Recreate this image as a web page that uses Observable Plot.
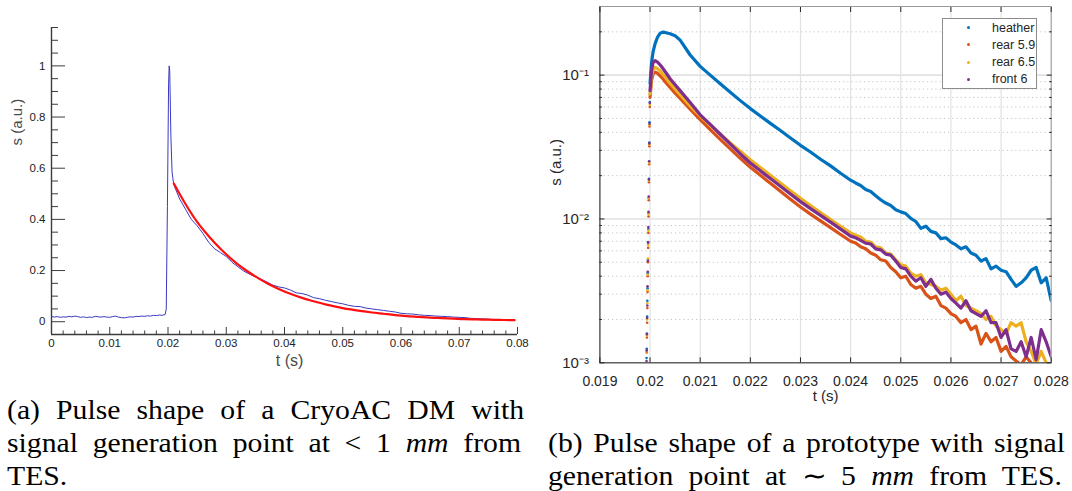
<!DOCTYPE html>
<html><head><meta charset="utf-8">
<script src="https://cdn.jsdelivr.net/npm/d3@7"></script>
<script src="https://cdn.jsdelivr.net/npm/@observablehq/plot@0.6"></script>
<style>
html,body{margin:0;padding:0;background:#fff;}
#wrap{position:relative;width:1072px;height:491px;overflow:hidden;background:#fff;}
#left{position:absolute;left:0;top:0;width:540px;height:380px;}
#right{position:absolute;left:540px;top:0;width:532px;height:410px;}
#legend{position:absolute;left:942px;top:18px;width:93px;height:69px;border:1px solid #8c8c8c;background:#fff;font:12.5px "Liberation Sans",Arial,sans-serif;color:#262626;}
#legend .row{position:absolute;left:0;height:14px;line-height:14px;width:93px;}
#legend .dot{position:absolute;left:24px;top:5.5px;width:3px;height:3px;border-radius:50%;}
#legend .lab{position:absolute;left:49px;top:0;white-space:nowrap;}
#caps{position:absolute;left:0;top:0;pointer-events:none;}
</style></head>
<body><div id="wrap">
<div id="left"></div>
<div id="right"></div>
<div id="legend"></div>
<svg id="caps" width="1072" height="491">
<g font-family="Liberation Serif, Times New Roman, serif" font-size="27" fill="#000">
<text class="cap" data-x="7" data-y="419" data-w="517">(a) Pulse shape of a CryoAC DM with</text>
<text class="cap" data-x="7" data-y="452" data-w="514">signal generation point at &lt; 1 <tspan font-style="italic">mm</tspan> from</text>
<text class="cap" data-x="7" data-y="485" data-w="0">TES.</text>
<text class="cap" data-x="548" data-y="452" data-w="517">(b) Pulse shape of a prototype with signal</text>
<text class="cap" data-x="548" data-y="485" data-w="514">generation point at ∼ 5 <tspan font-style="italic">mm</tspan> from TES.</text>
</g></svg>
</div>
<script>
// ---------- (a) CryoAC DM pulse ----------
const tA = [0,0.0005,0.001,0.0015,0.002,0.0025,0.003,0.0035,0.004,0.0045,0.005,0.0055,0.006,0.0065,0.007,0.0075,0.008,0.0085,0.009,0.0095,
  0.01,0.0105,0.011,0.0115,0.012,0.0125,0.013,0.0135,0.014,0.0145,0.015,0.0155,0.016,0.0165,0.017,0.0175,0.018,0.0185,0.019,0.0195,
  0.0197,0.0199,0.0201,0.0202,0.0203,0.0205,0.0207,0.0209,
  0.021,0.022,0.023,0.024,0.025,0.026,0.027,0.028,0.029,0.030,0.031,0.032,0.033,0.034,0.035,0.036,0.037,0.038,0.039,0.040,
  0.041,0.042,0.043,0.044,0.045,0.046,0.047,0.048,0.049,0.050,0.051,0.052,0.053,0.054,0.055,0.056,0.057,0.058,0.059,0.060,
  0.061,0.062,0.063,0.064,0.065,0.066,0.067,0.068,0.069,0.070,0.071,0.072,0.073,0.074,0.075,0.076,0.077,0.078,0.079,0.0795];
const sA = [0.021,0.018,0.020,0.017,0.019,0.018,0.021,0.019,0.022,0.020,0.017,0.019,0.016,0.018,0.017,0.021,0.019,0.018,0.020,0.018,
  0.017,0.020,0.022,0.018,0.016,0.015,0.017,0.019,0.018,0.021,0.020,0.022,0.021,0.023,0.022,0.025,0.024,0.026,0.025,0.028,
  0.05,0.45,0.93,1.0,0.98,0.72,0.585,0.55,
  0.535,0.48,0.44,0.40,0.375,0.345,0.31,0.285,0.27,0.255,0.232,0.215,0.198,0.186,0.175,0.166,0.155,0.143,0.136,0.132,
  0.124,0.113,0.110,0.104,0.094,0.090,0.084,0.079,0.074,0.070,0.064,0.060,0.059,0.053,0.050,0.047,0.044,0.041,0.038,0.033,
  0.031,0.030,0.027,0.025,0.024,0.022,0.021,0.020,0.018,0.017,0.016,0.013,0.012,0.011,0.010,0.008,0.007,0.005,0.005,0.006];
const tFitA = [0.021,0.023,0.025,0.027,0.029,0.031,0.033,0.035,0.037,0.039,0.041,0.043,0.045,0.047,0.049,0.051,0.053,0.055,0.057,0.059,
  0.061,0.063,0.065,0.067,0.069,0.071,0.073,0.075,0.077,0.0795];
const sFitA = [0.540,0.46,0.39,0.334,0.285,0.243,0.207,0.177,0.150,0.128,0.109,0.093,0.080,0.068,0.058,0.049,0.042,0.036,0.031,0.026,
  0.022,0.019,0.016,0.014,0.012,0.010,0.009,0.008,0.007,0.006];
const xTicksA = [0,0.01,0.02,0.03,0.04,0.05,0.06,0.07,0.08];
const xLabelsA = ["0","0.01","0.02","0.03","0.04","0.05","0.06","0.07","0.08"];
const yTicksA = [0,0.2,0.4,0.6,0.8,1];
const yLabelsA = ["0","0.2","0.4","0.6","0.8","1"];

// ---------- (b) prototype pulses ----------
const seriesNames = ["heather","rear 5.9","rear 6.5","front 6"];
const seriesColors = ["#0072BD","#D95319","#EDB120","#7E2F8E"];
const tRise = [0.019930,0.019934,0.019938,0.019942,0.019946,0.019950,0.019954,0.019958,0.019962,0.019966,0.019970,0.019974,0.019978,0.019982,0.019986,0.019990,0.019995];
const heatherRise = [0.00108,0.00125,0.0016,0.0021,0.0027,0.0033,0.0042,0.0052,0.0068,0.0085,0.011,0.014,0.019,0.025,0.034,0.047,0.065];
const rear59Rise  = [0.00096,0.00118,0.0015,0.0019,0.0024,0.0031,0.0040,0.0050,0.0063,0.0080,0.0104,0.0135,0.018,0.024,0.032,0.044,0.060];
const rear65Rise  = [0.00099,0.0012,0.00155,0.0020,0.0026,0.0032,0.0041,0.0053,0.0066,0.0083,0.0108,0.014,0.0185,0.0245,0.033,0.045,0.062];
const front6Rise  = [0.00103,0.00122,0.00158,0.00205,0.0025,0.0034,0.0043,0.0051,0.0069,0.0088,0.0112,0.0143,0.0188,0.0252,0.0335,0.046,0.064];
const tLine = [0.02000,0.02003,0.02006,0.0201,0.02015,0.0202,0.02025,0.0203,0.0204,0.0205,0.0206,0.0208,
  0.0210,0.0212,0.0214,0.0216,0.0218,0.0220,0.0222,0.0224,0.0226,0.0228,0.0230,0.0232,0.0234,0.0236,0.0238,0.0240,
  0.0241,0.0242,0.0243,0.0244,0.0245,0.0246,0.0247,0.0248,0.0249,0.0250,
  0.0251,0.0252,0.0253,0.0254,0.0255,0.0256,0.0257,0.0258,0.0259,0.0260,
  0.0261,0.0262,0.0263,0.0264,0.0265,0.0266,0.0267,0.0268,0.0269,0.0270,
  0.0271,0.0272,0.0273,0.0274,0.0275,0.0276,0.0277,0.0278,0.0279,0.0280];
const heather = [0.088,0.122,0.145,0.165,0.184,0.195,0.199,0.198,0.194,0.188,0.175,0.138,
  0.115,0.100,0.087,0.076,0.0665,0.0585,0.052,0.0462,0.0412,0.0366,0.0325,0.0292,0.026,0.0234,0.0208,0.0186,
  0.0178,0.0171,0.0160,0.0155,0.0145,0.0136,0.0129,0.0124,0.0116,0.0112,
  0.0109,0.0101,0.0096,0.0086,0.0089,0.0082,0.0080,0.0073,0.0074,0.0069,
  0.0066,0.0062,0.0064,0.0058,0.0056,0.0051,0.0053,0.0045,0.0047,0.0044,
  0.0043,0.0038,0.0034,0.0036,0.0039,0.0044,0.0046,0.0036,0.0039,0.0027];
const rear59 = [0.070,0.092,0.102,0.105,0.103,0.099,0.095,0.090,0.082,0.075,0.069,0.058,
  0.049,0.0418,0.0358,0.0307,0.0264,0.0229,0.0201,0.0177,0.0156,0.0137,0.0121,0.0108,0.0097,0.0087,0.0078,0.0070,
  0.0068,0.0064,0.0062,0.0058,0.0056,0.0052,0.0051,0.0046,0.0043,0.0039,
  0.0040,0.0035,0.0033,0.0034,0.0030,0.0028,0.0029,0.0025,0.0024,0.0022,
  0.0021,0.0019,0.0020,0.0017,0.0018,0.00135,0.0016,0.0014,0.0015,0.0012,
  0.0013,0.0011,0.00103,0.00097,0.0011,0.0010,0.0009,0.00095,0.0009,0.00085];
const rear65 = [0.074,0.098,0.110,0.113,0.111,0.107,0.102,0.097,0.088,0.080,0.073,0.061,
  0.052,0.0448,0.0388,0.0337,0.0296,0.0258,0.0228,0.0201,0.0178,0.0157,0.0139,0.0124,0.0111,0.0099,0.0089,0.0080,
  0.0077,0.0075,0.0070,0.0069,0.0064,0.0063,0.0058,0.0057,0.0052,0.0048,
  0.0047,0.0042,0.0040,0.0041,0.0036,0.0035,0.0034,0.0032,0.0033,0.0030,
  0.0027,0.0029,0.0025,0.0024,0.0023,0.0022,0.0020,0.0021,0.0018,0.0017,
  0.0016,0.0019,0.0018,0.0019,0.0014,0.0012,0.00098,0.0012,0.0010,0.00095];
const front6 = [0.078,0.108,0.122,0.126,0.123,0.118,0.112,0.106,0.0944,0.0857,0.078,0.0645,
  0.053,0.0454,0.0388,0.0332,0.0283,0.0245,0.0216,0.0191,0.0169,0.0149,0.0132,0.0118,0.0106,0.0095,0.0085,0.0076,
  0.0074,0.0071,0.0068,0.0067,0.0062,0.0061,0.0057,0.0056,0.0051,0.0046,
  0.0045,0.0040,0.0037,0.0039,0.0034,0.0038,0.0033,0.0030,0.0031,0.0028,
  0.0026,0.0024,0.0027,0.0023,0.0022,0.0021,0.0023,0.0019,0.0019,0.0015,
  0.0017,0.00125,0.0012,0.0014,0.0011,0.0015,0.00105,0.0017,0.0014,0.0011];
const xTicksB = [0.019,0.020,0.021,0.022,0.023,0.024,0.025,0.026,0.027,0.028];
const xLabelsB = ["0.019","0.02","0.021","0.022","0.023","0.024","0.025","0.026","0.027","0.028"];
const yDecadesB = [0.001,0.01,0.1];
const yDecadeLabels = ["10⁻³","10⁻²","10⁻¹"];

const labelOf = (ticks, labels) => v => labels[ticks.findIndex(d => Math.abs(d - v) < 1e-9 * Math.max(1, Math.abs(d)))] ?? "";

// ---------- build (a) ----------
const blueA = tA.map((t,i)=>({t, s:sA[i]}));
const redA = tFitA.map((t,i)=>({t, s:sFitA[i]}));
const minorYA = d3.range(-0.05, 1.1501, 0.05).map(v=>+v.toFixed(2)).filter(v=>!yTicksA.some(m=>Math.abs(m-v)<1e-9));
const minorXA = d3.range(0, 0.0801, 0.002).map(v=>+v.toFixed(3)).filter(v=>!xTicksA.some(m=>Math.abs(m-v)<1e-9));
const axC = "#3c3c3c";
const plotA = Plot.plot({
  width: 540, height: 380, marginLeft: 51, marginRight: 23, marginTop: 27, marginBottom: 46,
  style: {fontFamily: "Liberation Sans, Arial, sans-serif", fontSize: "11.5px", color: "#222", background: "transparent", overflow: "visible"},
  x: {domain: [0, 0.08]},
  y: {domain: [-0.05, 1.15]},
  marks: [
    Plot.axisY({ticks: minorYA, tickSize: -7, tickFormat: () => "", label: null, stroke: axC}),
    Plot.axisY({ticks: yTicksA, tickSize: -14, tickPadding: 20, label: null, stroke: axC, fill: "#222", fontSize: 11.5, tickFormat: labelOf(yTicksA, yLabelsA)}),
    Plot.axisX({ticks: minorXA, tickSize: -3.5, tickFormat: () => "", label: null, stroke: axC}),
    Plot.axisX({ticks: xTicksA, tickSize: -7, tickPadding: 11, label: null, stroke: axC, fill: "#222", fontSize: 11.5, tickFormat: labelOf(xTicksA, xLabelsA)}),
    Plot.ruleX([0], {stroke: axC, strokeWidth: 1.4}),
    Plot.ruleY([-0.05], {stroke: axC, strokeWidth: 1.4}),
    Plot.line(blueA, {x: "t", y: "s", stroke: "#3a3ac0", strokeWidth: 1}),
    Plot.line(redA, {x: "t", y: "s", stroke: "#ff1010", strokeWidth: 2.2, curve: "monotone-x"}),
    Plot.text(["s (a.u.)"], {frameAnchor: "left", rotate: -90, dx: -34, dy: -35.5, fontSize: 15, fill: "#4a4a4a"}),
    Plot.text(["t (s)"], {frameAnchor: "bottom", dx: 5, dy: 31, fontSize: 16, fill: "#4a4a4a"})
  ]
});
document.getElementById("left").appendChild(plotA);

// ---------- build (b) ----------
const lineSeries = [heather, rear59, rear65, front6];
const riseSeries = [heatherRise, rear59Rise, rear65Rise, front6Rise];
const minorYB = [];
for (const d of yDecadesB) for (let k = 2; k <= 9; k++) if (d*k <= 0.3) minorYB.push(+(d*k).toPrecision(2));
const gridC = "#e2e2e2";
const marksB = [
  Plot.ruleX(xTicksB, {stroke: gridC, strokeWidth: 1.2}),
  Plot.ruleY(minorYB, {stroke: "#c4c4c4", strokeDasharray: "1.2,3"}),
  Plot.ruleY(yDecadesB, {stroke: gridC, strokeWidth: 1.6})
];
lineSeries.forEach((vals, k) => {
  const data = tLine.map((t,i)=>({t, s: vals[i]}));
  marksB.push(Plot.line(data, {x: "t", y: "s", stroke: seriesColors[k], strokeWidth: 3.2, clip: true}));
});
riseSeries.forEach((vals, k) => {
  const data = tRise.map((t,i)=>({t, s: vals[i]}));
  marksB.push(Plot.dot(data, {x: "t", y: "s", fill: seriesColors[k], r: 1.3, clip: true}));
});
const axB = "#262626";
marksB.push(
  Plot.frame({stroke: "#9a9a9a"}),
  Plot.ruleX([0.019], {stroke: axB, strokeWidth: 0.8}),
  Plot.ruleY([0.001], {stroke: axB, strokeWidth: 0.8}),
  Plot.axisY({anchor: "left", ticks: minorYB, tickSize: -2.5, tickFormat: () => "", label: null, stroke: axB}),
  Plot.axisY({anchor: "right", ticks: minorYB, tickSize: -2.5, tickFormat: () => "", label: null, stroke: axB}),
  Plot.axisY({anchor: "right", ticks: yDecadesB, tickSize: -5, tickFormat: () => "", label: null, stroke: axB}),
  Plot.axisY({anchor: "left", ticks: yDecadesB, tickSize: -5, tickPadding: 16, label: null, stroke: axB, fill: axB, fontSize: 15,
    tickFormat: labelOf(yDecadesB, yDecadeLabels)}),
  Plot.axisX({anchor: "top", ticks: xTicksB, tickSize: -5, tickFormat: () => "", label: null, stroke: axB}),
  Plot.axisX({anchor: "bottom", ticks: xTicksB, tickSize: -5, tickPadding: 18, label: null, stroke: axB, fill: axB, fontSize: 14,
    tickFormat: labelOf(xTicksB, xLabelsB)}),
  Plot.text(["s (a.u.)"], {frameAnchor: "left", rotate: -90, dx: -44, dy: 1, fontSize: 15, fill: axB}),
  Plot.text(["t (s)"], {frameAnchor: "bottom", dy: 38, fontSize: 15, fill: axB})
);
const plotB = Plot.plot({
  width: 532, height: 410, marginLeft: 59.4, marginRight: 21.3, marginTop: 6, marginBottom: 47.7,
  style: {fontFamily: "Liberation Sans, Arial, sans-serif", fontSize: "14px", color: axB, background: "transparent", overflow: "visible"},
  x: {domain: [0.019, 0.028]},
  y: {type: "log", domain: [0.001, 0.3]},
  marks: marksB
});
document.getElementById("right").appendChild(plotB);

// ---------- legend ----------
const leg = document.getElementById("legend");
const rowTops = [1.5, 18.5, 36, 53];
seriesNames.forEach((name, k) => {
  const row = document.createElement("div");
  row.className = "row";
  row.style.top = rowTops[k] + "px";
  row.innerHTML = `<span class="dot" style="background:${seriesColors[k]}"></span><span class="lab">${name}</span>`;
  leg.appendChild(row);
});

// ---------- captions: slightly widened serif, justified by word spacing ----------
const SX = 1.1;
document.querySelectorAll("#caps text.cap").forEach(el => {
  const x = +el.dataset.x, y = +el.dataset.y, w = +el.dataset.w;
  el.setAttribute("transform", `translate(${x},${y}) scale(${SX},1)`);
  if (w > 0) {
    const natural = el.getComputedTextLength();
    const spaces = (el.textContent.match(/ /g) || []).length;
    const extra = (w / SX - natural) / Math.max(1, spaces);
    el.setAttribute("word-spacing", extra.toFixed(2));
  }
});
</script>
</body></html>
